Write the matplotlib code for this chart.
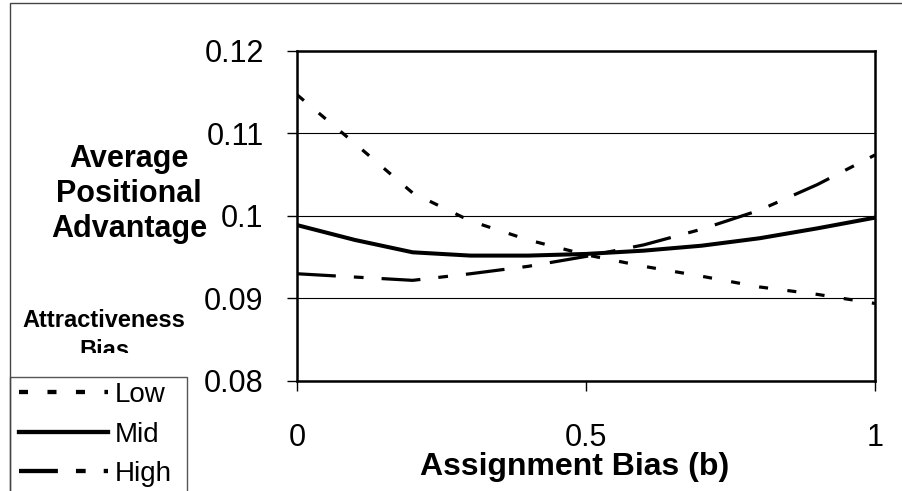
import matplotlib
matplotlib.use("Agg")
import matplotlib.pyplot as plt
from matplotlib.patches import Rectangle
from matplotlib.transforms import Bbox, TransformedBbox

plt.rcParams['font.family'] = ['Liberation Sans', 'DejaVu Sans']
plt.rcParams['lines.scale_dashes'] = False

# assignment bias (b)
b = [0.0, 0.1, 0.2, 0.3, 0.4, 0.5, 0.6, 0.7, 0.8, 0.9, 1.0]
# average positional advantage for each attractiveness bias level
low = [0.1147, 0.1088, 0.1028, 0.0994, 0.0971, 0.0953, 0.0939, 0.0927, 0.0914, 0.0905, 0.0894]
mid = [0.0989, 0.0971, 0.0956, 0.0952, 0.0952, 0.0954, 0.0958, 0.0964, 0.0973, 0.0985, 0.0998]
high = [0.0930, 0.0926, 0.0922, 0.0930, 0.0939, 0.0951, 0.0965, 0.0984, 0.1007, 0.1038, 0.1074]

series_names = ["Low", "Mid", "High"]
yticks = [0.08, 0.09, 0.1, 0.11, 0.12]
yticklabels = ["0.08", "0.09", "0.1", "0.11", "0.12"]
xticks = [0, 0.5, 1]
xticklabels = ["0", "0.5", "1"]

W, H = 902, 491
fig = plt.figure(figsize=(W / 100, H / 100), dpi=100)
ax = fig.add_axes([297 / W, 1 - 381 / H, 578 / W, 330 / H])

ax.plot(b, low, color='black', lw=2.3, dashes=(6.5, 14), label=series_names[0])
ax.plot(b, mid, color='black', lw=2.9, label=series_names[1])
ax.plot(b, high, color='black', lw=2.3, dashes=(28, 13, 7, 13), label=series_names[2])

ax.set_xlim(0, 1)
ax.set_ylim(0.08, 0.12)
ax.set_yticks(yticks)
ax.set_yticklabels(yticklabels)
ax.set_xticks(xticks)
ax.set_xticklabels(xticklabels)
ax.tick_params(axis='both', direction='out', length=7, width=1, labelsize=22)
ax.tick_params(axis='y', pad=17)
ax.tick_params(axis='x', pad=23)
ax.grid(axis='y', color='black', lw=0.8)
ax.set_axisbelow(True)
for s in ax.spines.values():
    s.set_linewidth(1.8)

# axis titles
fig.text(575 / W, 1 - 475 / H, "Assignment Bias (b)", fontsize=23, fontweight='bold',
         ha='center', va='baseline')
for txt, y in zip(["Average", "Positional", "Advantage"], [167, 202, 237]):
    fig.text(129 / W, 1 - y / H, txt, fontsize=22, fontweight='bold', ha='center', va='baseline')

# legend title (cut off at the bottom like the original)
fig.text(104 / W, 1 - 327 / H, "Attractiveness", fontsize=17, fontweight='bold',
         ha='center', va='baseline')
t = fig.text(104 / W, 1 - 357 / H, "Bias", fontsize=17, fontweight='bold',
             ha='center', va='baseline')
t.set_clip_box(TransformedBbox(Bbox.from_extents(0, 1 - 353 / H, 1, 1), fig.transFigure))
t.set_clip_on(True)

leg = ax.legend(loc='upper left', bbox_to_anchor=(15 / W, 1 - 378 / H),
                bbox_transform=fig.transFigure, fontsize=20, frameon=False,
                handlelength=3.2, handletextpad=0.25, labelspacing=0.48,
                borderpad=0.15, borderaxespad=0)
for ln in leg.get_lines():
    ln.set_linewidth(3.1)

# legend box, running off the bottom of the picture
fig.patches.append(Rectangle((10 / W, -0.1), 177 / W, 0.1 + 1 - 377 / H,
                             transform=fig.transFigure, fill=False, ec='#555555', lw=1))

# outer chart border
fig.patches.append(Rectangle((10 / W, -0.2), 1.2, 1.2 - 3 / H, transform=fig.transFigure,
                             fill=False, ec='#444444', lw=1))

fig.savefig("out.png", dpi=100)
